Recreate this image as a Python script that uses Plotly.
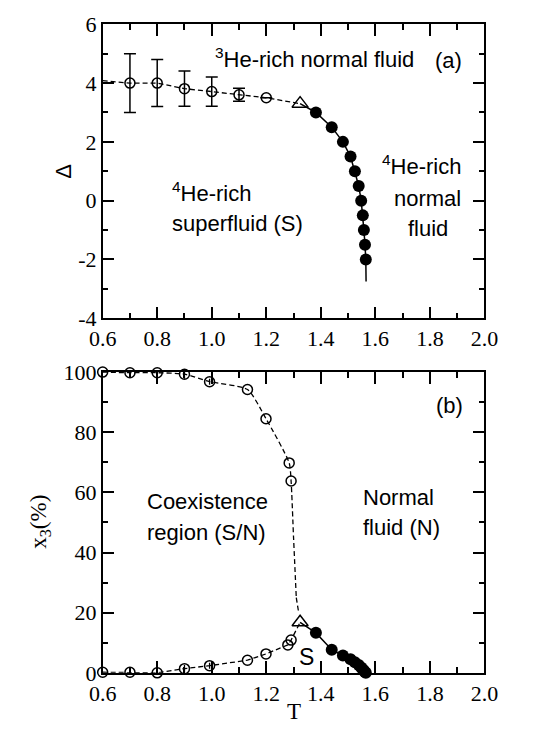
import plotly.graph_objects as go

# ---------------- Data ----------------
# Panel (a): Delta vs T
a_open_T = [0.7, 0.8, 0.9, 1.0, 1.1, 1.2]
a_open_D = [4.0, 4.0, 3.81, 3.71, 3.6, 3.5]
a_open_err = [1.0, 0.8, 0.6, 0.5, 0.22, 0.0]
a_dash_T = [0.6, 0.7, 0.8, 0.9, 1.0, 1.1, 1.2, 1.324]
a_dash_D = [4.08, 4.0, 4.0, 3.81, 3.71, 3.6, 3.5, 3.3]
tri_T = [1.324]
a_tri_D = [3.3]
fill_T = [1.382, 1.440, 1.481, 1.509, 1.525, 1.539, 1.548, 1.554, 1.558, 1.562, 1.565]
a_fill_D = [3.0, 2.5, 2.0, 1.5, 1.0, 0.5, 0.0, -0.5, -1.0, -1.5, -2.0]
a_solid_T = [1.324] + fill_T + [1.566]
a_solid_D = [3.3] + a_fill_D + [-2.75]

# Panel (b): x3 (%) vs T
b_up_T = [0.6, 0.7, 0.8, 0.9, 0.992, 1.131, 1.199, 1.284, 1.291]
b_up_X = [100.0, 99.8, 99.8, 99.3, 96.8, 94.2, 84.5, 69.8, 63.8]
b_up_err = [0.0, 1.2, 1.8, 1.5, 1.0, 0.0, 0.0, 0.0, 0.0]
b_lo_T = [0.6, 0.7, 0.8, 0.9, 0.992, 1.131, 1.199, 1.279, 1.291]
b_lo_X = [0.2, 0.2, 0.0, 1.4, 2.4, 4.2, 6.3, 9.3, 10.9]
b_lo_err = [0.0, 1.2, 1.5, 1.2, 1.0, 0.0, 0.0, 0.0, 0.0]
b_tri_X = [16.8]
b_fill_X = [13.3, 7.7, 5.8, 4.5, 3.5, 2.6, 1.8, 1.2, 0.7, 0.3, 0.0]

# Axis ticks
x_ticks = [0.6, 0.8, 1.0, 1.2, 1.4, 1.6, 1.8, 2.0]
x_ticktext = ["0.6", "0.8", "1.0", "1.2", "1.4", "1.6", "1.8", "2.0"]
ya_ticks = [-4, -2, 0, 2, 4, 6]
ya_ticktext = ["-4", "-2", "0", "2", "4", "6"]
yb_ticks = [0, 20, 40, 60, 80, 100]
yb_ticktext = ["0", "20", "40", "60", "80", "100"]

# ---------------- Figure ----------------
W, H = 543, 739
X0, X1 = 93.5, 496
TOPA, BOTA = 12.7, 317
TOPB, BOTB = 372.7, 684


def px(x):
    return x / W


def py(y):
    return 1 - y / H


fig = go.Figure()
BLK = "black"
dash = "5px,3px"

# ----- panel a -----
fig.add_trace(go.Scatter(x=a_dash_T, y=a_dash_D, mode="lines",
                         line=dict(color=BLK, width=1.3, dash=dash),
                         xaxis="x", yaxis="y", showlegend=False))
fig.add_trace(go.Scatter(x=a_solid_T, y=a_solid_D, mode="lines",
                         line=dict(color=BLK, width=1.5),
                         xaxis="x", yaxis="y", showlegend=False))
fig.add_trace(go.Scatter(x=a_open_T, y=a_open_D, mode="markers",
                         marker=dict(symbol="circle-open", size=10, color=BLK, line=dict(width=1.5)),
                         error_y=dict(type="data", array=a_open_err, color=BLK, thickness=1.5, width=6),
                         xaxis="x", yaxis="y", showlegend=False))
fig.add_trace(go.Scatter(x=tri_T, y=a_tri_D, mode="markers",
                         marker=dict(symbol="triangle-up-open", size=14, color=BLK, line=dict(width=1.5)),
                         xaxis="x", yaxis="y", showlegend=False))
fig.add_trace(go.Scatter(x=fill_T, y=a_fill_D, mode="markers",
                         marker=dict(symbol="circle", size=12, color=BLK),
                         xaxis="x", yaxis="y", showlegend=False))

# ----- panel b -----
b_dash_lo_T = b_lo_T + tri_T
b_dash_lo_X = b_lo_X + b_tri_X
fig.add_trace(go.Scatter(x=b_up_T + [1.3, 1.31], y=b_up_X + [45, 25], mode="lines",
                         line=dict(color=BLK, width=1.3, dash=dash, shape="spline", smoothing=0.6),
                         xaxis="x2", yaxis="y2", showlegend=False))
fig.add_trace(go.Scatter(x=[1.31, 1.318], y=[25, 20.5], mode="lines",
                         line=dict(color=BLK, width=1.3, dash=dash),
                         xaxis="x2", yaxis="y2", showlegend=False))
fig.add_trace(go.Scatter(x=b_dash_lo_T, y=b_dash_lo_X, mode="lines",
                         line=dict(color=BLK, width=1.3, dash=dash),
                         xaxis="x2", yaxis="y2", showlegend=False))
fig.add_trace(go.Scatter(x=tri_T + fill_T, y=b_tri_X + b_fill_X, mode="lines",
                         line=dict(color=BLK, width=1.5),
                         xaxis="x2", yaxis="y2", showlegend=False))
fig.add_trace(go.Scatter(x=b_up_T, y=b_up_X, mode="markers",
                         marker=dict(symbol="circle-open", size=10, color=BLK, line=dict(width=1.5)),
                         error_y=dict(type="data", array=b_up_err, color=BLK, thickness=1.3, width=0),
                         xaxis="x2", yaxis="y2", showlegend=False, cliponaxis=False))
fig.add_trace(go.Scatter(x=b_lo_T, y=b_lo_X, mode="markers",
                         marker=dict(symbol="circle-open", size=10, color=BLK, line=dict(width=1.5)),
                         error_y=dict(type="data", array=b_lo_err, color=BLK, thickness=1.3, width=0),
                         xaxis="x2", yaxis="y2", showlegend=False, cliponaxis=False))
fig.add_trace(go.Scatter(x=tri_T, y=b_tri_X, mode="markers",
                         marker=dict(symbol="triangle-up-open", size=14, color=BLK, line=dict(width=1.5)),
                         xaxis="x2", yaxis="y2", showlegend=False))
fig.add_trace(go.Scatter(x=fill_T, y=b_fill_X, mode="markers",
                         marker=dict(symbol="circle", size=12, color=BLK),
                         xaxis="x2", yaxis="y2", showlegend=False, cliponaxis=False))

tickfont = dict(family="Liberation Serif", size=22, color=BLK)
common = dict(showline=True, linecolor=BLK, linewidth=1.5, mirror="allticks",
              ticks="inside", ticklen=12, tickwidth=1.5, tickcolor=BLK,
              showgrid=False, zeroline=False, tickfont=tickfont)
xcommon = dict(common, range=[0.6, 2.0], tickvals=x_ticks, ticktext=x_ticktext,
               minor=dict(dtick=0.1, ticklen=6, tickwidth=1.5, tickcolor=BLK, ticks="inside", showgrid=False),
               domain=[px(X0), px(X1)])

fig.update_layout(
    width=W, height=H,
    margin=dict(l=0, r=0, t=0, b=0),
    paper_bgcolor="white", plot_bgcolor="white",
    xaxis=dict(xcommon, anchor="y"),
    yaxis=dict(common, range=[-4, 6], tickvals=ya_ticks, ticktext=ya_ticktext,
               minor=dict(dtick=1, ticklen=6, tickwidth=1.5, tickcolor=BLK, ticks="inside", showgrid=False),
               domain=[py(BOTA), py(TOPA)], anchor="x"),
    xaxis2=dict(xcommon, anchor="y2"),
    yaxis2=dict(common, range=[0, 100], tickvals=yb_ticks, ticktext=yb_ticktext,
                minor=dict(dtick=10, ticklen=6, tickwidth=1.5, tickcolor=BLK, ticks="inside", showgrid=False),
                domain=[py(BOTB), py(TOPB)], anchor="x2"),
)

sans = dict(family="Liberation Sans", size=22, color=BLK)
serif = dict(family="Liberation Serif", size=23, color=BLK)


def ann(text, x, y, font, angle=0, xanchor="center"):
    fig.add_annotation(text=text, x=px(x), y=py(y), xref="paper", yref="paper",
                       showarrow=False, font=font, textangle=angle,
                       xanchor=xanchor, yanchor="middle")


ann("<sup>3</sup>He-rich normal fluid", 317, 48, sans)
ann("(a)", 458, 50, sans)
ann("<sup>4</sup>He-rich", 164, 186, sans, xanchor="left")
ann("superfluid (S)", 164, 219, sans, xanchor="left")
ann("<sup>4</sup>He-rich", 430, 158, sans)
ann("normal", 436, 193, sans)
ann("fluid", 436, 224, sans)
ann("Δ", 52, 165, dict(family="Liberation Sans", size=22, color=BLK), angle=-90)

ann("(b)", 459, 407, sans)
ann("Coexistence", 138, 507, sans, xanchor="left")
ann("region (S/N)", 138, 539, sans, xanchor="left")
ann("Normal", 366, 502, sans, xanchor="left")
ann("fluid (N)", 366, 534, sans, xanchor="left")
ann("S", 308, 668, dict(family="Liberation Sans", size=23, color=BLK))
ann("x<sub>3</sub>(%)", 28, 528, serif, angle=-90)
ann("T", 295, 724, serif)

fig.write_html("out.html")
